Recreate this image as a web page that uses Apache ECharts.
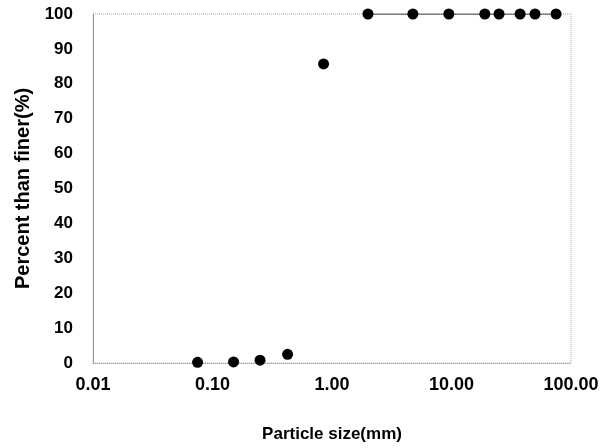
<!DOCTYPE html>
<html>
<head>
<meta charset="utf-8">
<script src="https://cdn.jsdelivr.net/npm/echarts@6/dist/echarts.min.js"></script>
<style>html,body{margin:0;padding:0;background:#fff;}#c{width:612px;height:448px;}</style>
</head>
<body>
<div id="c"></div>
<script>
const particleSize = [0.075, 0.15, 0.25, 0.425, 0.85, 2.0, 4.75, 9.5, 19, 25, 37.5, 50, 75];
const percentFiner = [0.2, 0.3, 0.8, 2.5, 85.7, 100, 100, 100, 100, 100, 100, 100, 100];
const xTickLabels = ['0.01', '0.10', '1.00', '10.00', '100.00'];
const yTickLabels = ['0','10','20','30','40','50','60','70','80','90','100'];

const pts = particleSize.map((s, i) => [s, percentFiner[i]]);
const topPts = pts.filter(p => p[1] >= 100);
const font = "'Liberation Sans', Arial, sans-serif";

const chart = echarts.init(document.getElementById('c'), null, {renderer: 'canvas'});
chart.setOption({
  backgroundColor: '#fff',
  animation: false,
  grid: {left: 93, right: 41, top: 14, bottom: 84, show: true, borderColor: '#aaa', borderWidth: 1, borderType: 'dotted'},
  xAxis: {
    type: 'log', logBase: 10, min: 0.01, max: 100,
    name: 'Particle size(mm)', nameLocation: 'middle', nameGap: 63,
    nameTextStyle: {fontFamily: font, fontWeight: 'bold', fontSize: 17, color: '#000'},
    axisLine: {show: true, lineStyle: {color: '#aaa', type: 'dotted'}},
    axisTick: {show: false}, splitLine: {show: false}, minorTick: {show: false},
    axisLabel: {margin: 13, fontFamily: font, fontWeight: 'bold', fontSize: 18, color: '#000',
      formatter: v => { const idx = Math.round(Math.log10(v)) + 2; return xTickLabels[idx] || ''; }}
  },
  yAxis: {
    type: 'value', min: 0, max: 100, interval: 10,
    name: 'Percent than finer(%)', nameLocation: 'middle', nameGap: 59,
    nameTextStyle: {fontFamily: font, fontWeight: 'bold', fontSize: 20, color: '#000'},
    axisLine: {show: true, lineStyle: {color: '#999', type: 'solid'}},
    axisTick: {show: false}, splitLine: {show: false},
    axisLabel: {margin: 20, fontFamily: font, fontWeight: 'bold', fontSize: 17, color: '#000',
      formatter: v => yTickLabels[Math.round(v / 10)]}
  },
  series: [
    {type: 'line', data: topPts, symbol: 'none', lineStyle: {color: '#111', width: 1}, z: 2},
    {type: 'scatter', data: pts, symbol: 'circle', symbolSize: 11, itemStyle: {color: '#000', opacity: 1}, z: 3}
  ]
});
</script>
</body>
</html>
